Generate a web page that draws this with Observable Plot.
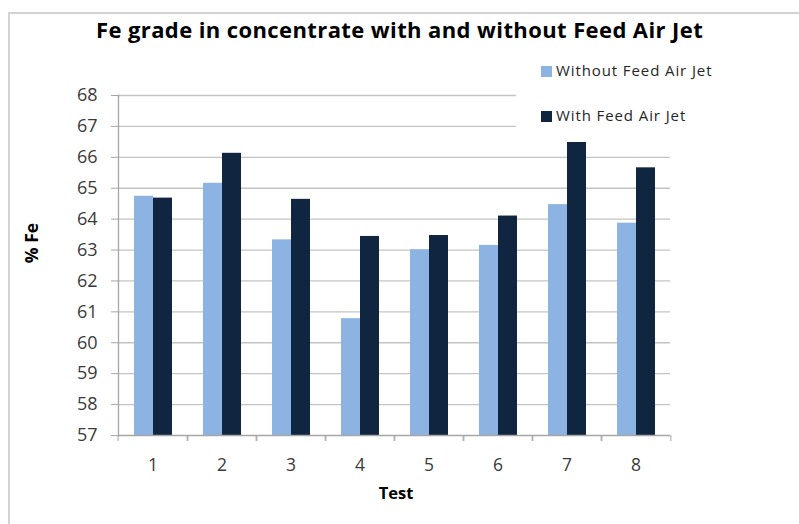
<!DOCTYPE html>
<html>
<head>
<meta charset="utf-8">
<script src="https://cdn.jsdelivr.net/npm/d3@7"></script>
<script src="https://cdn.jsdelivr.net/npm/@observablehq/plot@0.6"></script>
<style>
  html, body { margin: 0; padding: 0; background: #fff; }
  #chart { position: relative; width: 799px; height: 524px; overflow: hidden; font-family: "Open Sans", Lato, sans-serif; }
  #chart svg { position: absolute; left: 0; top: 0; }
  .frame { position: absolute; left: 8px; top: 12px; right: -4px; bottom: -4px; border-top: 2px solid #d3d3d3; border-left: 2px solid #d3d3d3; }
  .title { position: absolute; left: 0; width: 799px; top: 14px; text-align: center; font-weight: bold; font-size: 22px; letter-spacing: 0.4px; color: #000; }
  .legend { position: absolute; left: 516px; top: 56px; width: 283px; height: 86px; background: #fff; }
  .item { position: absolute; left: 25px; font-size: 15px; letter-spacing: 0.9px; color: #262626; white-space: nowrap; }
  .item span.sw { display: inline-block; width: 11px; height: 11px; margin-right: 4px; vertical-align: -1px; }
  .xlabel { position: absolute; left: 0; width: 792px; top: 481px; text-align: center; font-weight: bold; font-size: 16.5px; color: #000; }
  .ylabel { position: absolute; left: 31px; top: 243px; transform: translate(-50%, -50%) rotate(-90deg); font-weight: bold; font-size: 17.5px; color: #000; white-space: nowrap; }
</style>
</head>
<body>
<div id="chart"></div>
<script>
// Fe grade (%) in concentrate for each test, without and with the feed air jet
const tests = [1, 2, 3, 4, 5, 6, 7, 8];
const withoutJet = [64.74, 65.16, 63.33, 60.78, 63.01, 63.15, 64.47, 63.87];
const withJet = [64.68, 66.13, 64.64, 63.44, 63.47, 64.10, 66.58, 65.66];
const seriesNames = ["Without Feed Air Jet", "With Feed Air Jet"];
const seriesColors = ["#8db3e2", "#10253f"];
const yTicks = [57, 58, 59, 60, 61, 62, 63, 64, 65, 66, 67, 68];

const rows = tests.flatMap((t, i) => [
  {test: t, series: seriesNames[0], value: withoutJet[i]},
  {test: t, series: seriesNames[1], value: withJet[i]}
]);

const W = 799, H = 524;
const mL = 115, mR = 126, mT = 95, mB = 89;
const step = (W - mL - mR) / tests.length;
const yMin = yTicks[0], yMax = yTicks[yTicks.length - 1];
const gridColor = "#c4c4c4";
const axisColor = "#a6a6a6";
const tickText = "#3a3a3a";

const plot = Plot.plot({
  width: W,
  height: H,
  marginLeft: mL,
  marginRight: mR,
  marginTop: mT,
  marginBottom: mB,
  style: {fontFamily: "'Open Sans', Lato, sans-serif", background: "transparent"},
  fx: {domain: tests, padding: 0},
  x: {domain: seriesNames, paddingInner: 0, paddingOuter: 0.745, axis: null},
  y: {domain: [yMin, yMax]},
  color: {domain: seriesNames, range: seriesColors},
  marks: [
    Plot.gridY(yTicks.slice(1), {stroke: gridColor, strokeOpacity: 1, strokeWidth: 1.3}),
    Plot.barY(rows, {fx: "test", x: "series", y1: yMin, y2: "value", fill: "series"}),
    Plot.ruleY([yMin], {stroke: axisColor, strokeWidth: 1.3}),
    Plot.frame({anchor: "left", facetAnchor: "left", stroke: axisColor, strokeWidth: 1.3}),
    Plot.axisY(yTicks, {tickSize: 7, tickPadding: 14, stroke: axisColor, fill: tickText, fontSize: 18, label: null}),
    // category boundary ticks below the baseline
    Plot.axisFx({anchor: "bottom", tickSize: 6, dx: -step / 2, tickFormat: () => "", stroke: axisColor, label: null}),
    Plot.axisFx([tests[tests.length - 1]], {anchor: "bottom", tickSize: 6, dx: step / 2, tickFormat: () => "", stroke: axisColor, label: null}),
    // category labels centred in each band
    Plot.axisFx({anchor: "bottom", tickSize: 0, tickPadding: 23, fill: tickText, fontSize: 17.5, label: null})
  ]
});

const chart = document.getElementById("chart");
chart.appendChild(plot);

const frame = document.createElement("div");
frame.className = "frame";
chart.appendChild(frame);

const title = document.createElement("div");
title.className = "title";
title.textContent = "Fe grade in concentrate with and without Feed Air Jet";
chart.appendChild(title);

const legend = document.createElement("div");
legend.className = "legend";
seriesNames.forEach((name, i) => {
  const item = document.createElement("div");
  item.className = "item";
  item.style.top = (i === 0 ? 4 : 49) + "px";
  const sw = document.createElement("span");
  sw.className = "sw";
  sw.style.background = seriesColors[i];
  item.appendChild(sw);
  item.appendChild(document.createTextNode(name));
  legend.appendChild(item);
});
chart.appendChild(legend);

const xl = document.createElement("div");
xl.className = "xlabel";
xl.textContent = "Test";
chart.appendChild(xl);

const yl = document.createElement("div");
yl.className = "ylabel";
yl.textContent = "% Fe";
chart.appendChild(yl);
</script>
</body>
</html>
